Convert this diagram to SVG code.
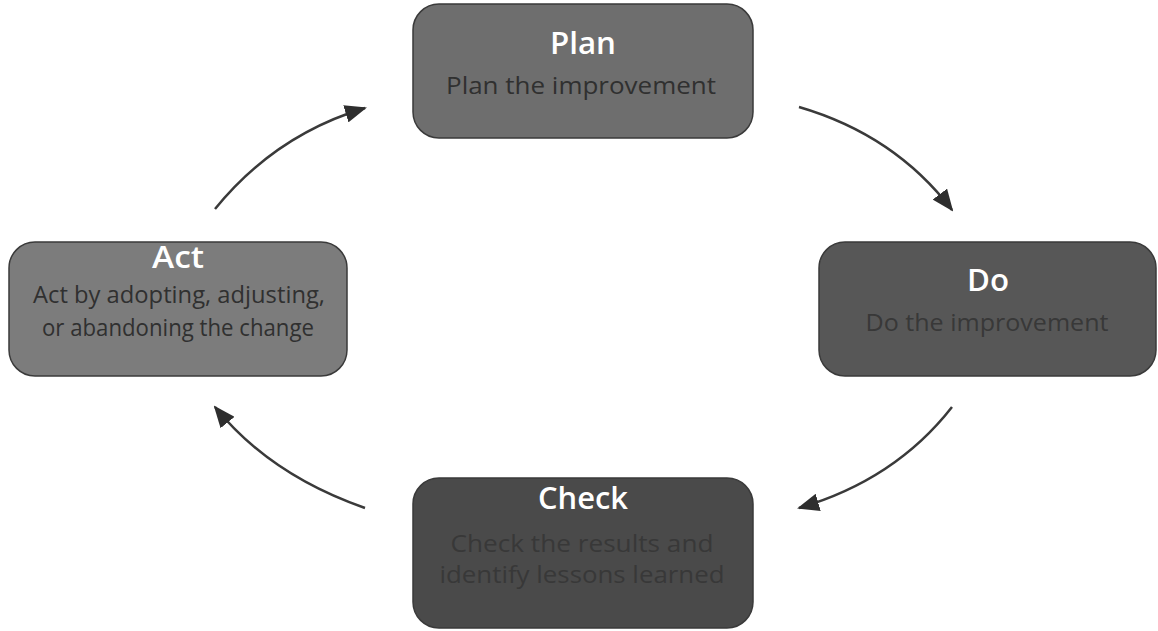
<svg xmlns="http://www.w3.org/2000/svg" width="1158" height="631" viewBox="0 0 1158 631">
<style>
.box{stroke:#3a3a3a;stroke-width:1.5}
.t{font-family:"Open Sans",Lato,sans-serif;font-weight:600;font-size:31px;fill:#ffffff;text-anchor:middle}
.s{font-family:"Open Sans",Lato,sans-serif;font-size:23px;fill:#303030;text-anchor:middle}
.c{fill:none;stroke:#3a3a3a;stroke-width:2.5}
</style>
<defs>
<marker id="a" markerWidth="22" markerHeight="18" refX="20" refY="9" orient="auto" markerUnits="userSpaceOnUse">
<path d="M0,0 L22,9 L0,18 z" fill="#2e2e2e"/>
</marker>
</defs>
<rect width="1158" height="631" fill="#ffffff"/>
<g id="plan">
<rect class="box" x="413" y="4" width="340" height="134" rx="26" fill="#6e6e6e"/>
<text class="t" x="583" y="54" textLength="66" lengthAdjust="spacingAndGlyphs">Plan</text>
<text class="s" x="581" y="94" textLength="270" lengthAdjust="spacingAndGlyphs">Plan the improvement</text>
</g>
<g id="act">
<rect class="box" x="9" y="242" width="338" height="134" rx="26" fill="#7c7c7c"/>
<text class="t" x="178" y="268" textLength="52" lengthAdjust="spacingAndGlyphs">Act</text>
<text class="s" x="179" y="303" textLength="292" lengthAdjust="spacingAndGlyphs">Act by adopting, adjusting,</text>
<text class="s" x="178" y="336" textLength="272" lengthAdjust="spacingAndGlyphs">or abandoning the change</text>
</g>
<g id="do">
<rect class="box" x="819" y="242" width="337" height="134" rx="26" fill="#575757"/>
<text class="t" x="988" y="291" textLength="42" lengthAdjust="spacingAndGlyphs">Do</text>
<text class="s" x="987" y="331" textLength="243" lengthAdjust="spacingAndGlyphs" style="fill:#383838">Do the improvement</text>
</g>
<g id="check">
<rect class="box" x="413" y="478" width="340" height="150" rx="26" fill="#4a4a4a"/>
<text class="t" x="583" y="509" textLength="90" lengthAdjust="spacingAndGlyphs">Check</text>
<text class="s" x="582" y="552" textLength="263" lengthAdjust="spacingAndGlyphs" style="fill:#383838">Check the results and</text>
<text class="s" x="582" y="583" textLength="285" lengthAdjust="spacingAndGlyphs" style="fill:#383838">identify lessons learned</text>
</g>
<g id="connectors">
<path class="c" d="M215,209 Q275,135 365,108" marker-end="url(#a)"/>
<path class="c" d="M799,107 Q895,135 952,210" marker-end="url(#a)"/>
<path class="c" d="M952,407 Q895,480 799,508" marker-end="url(#a)"/>
<path class="c" d="M365,508 Q270,475 215,407" marker-end="url(#a)"/>
</g>
</svg>
